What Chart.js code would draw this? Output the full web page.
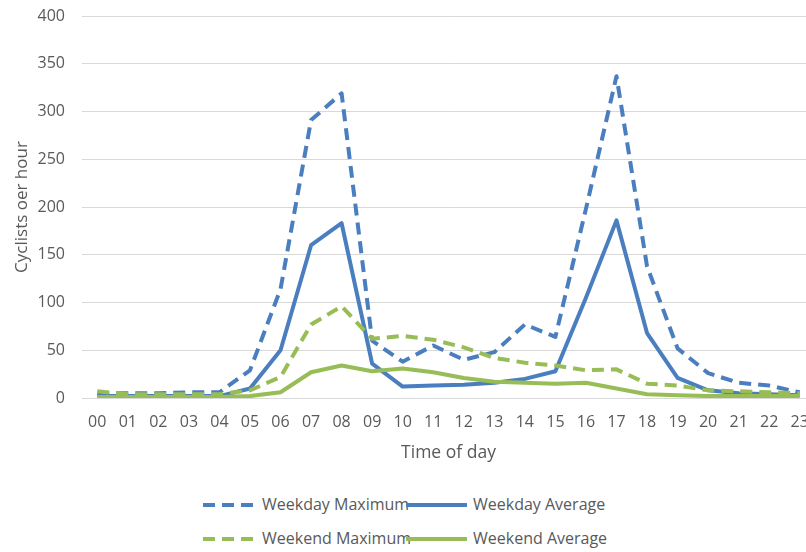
<!DOCTYPE html>
<html>
<head>
<meta charset="utf-8">
<script src="https://cdn.jsdelivr.net/npm/chart.js@4/dist/chart.umd.min.js"></script>
<style>
  html, body { margin: 0; padding: 0; background: #fff; overflow: hidden; width: 806px; height: 552px; }
  #wrap { position: absolute; left: 0; top: 0; width: 816px; height: 470px; }
  .lg { position: absolute; font-family: "Open Sans", sans-serif; font-size: 16px; color: #595959; white-space: nowrap; line-height: 20px; }
  .lg svg { position: absolute; }
</style>
</head>
<body>
<div id="wrap"><canvas id="c" width="816" height="470"></canvas></div>
<div id="legend"></div>
<script>
// Hourly cyclist counts
const hours = ["00","01","02","03","04","05","06","07","08","09","10","11","12","13","14","15","16","17","18","19","20","21","22","23"];
const weekdayMaximum = [5, 5, 5, 6, 6, 29, 114, 291, 319, 60, 38, 55, 40, 48, 77, 64, 198, 337, 138, 52, 26, 16, 13, 6];
const weekdayAverage = [2, 2, 2, 2, 2, 10, 50, 160, 183, 36, 12, 13, 14, 16, 20, 28, 105, 186, 68, 21, 8, 5, 4, 3];
const weekendMaximum = [7, 4, 4, 4, 4, 8, 22, 77, 96, 62, 65, 61, 53, 42, 37, 34, 29, 30, 15, 13, 8, 7, 6, 5];
const weekendAverage = [1, 1, 1, 1, 1, 2, 6, 27, 34, 28, 31, 27, 21, 17, 16, 15, 16, 10, 4, 3, 2, 2, 2, 2];
const yTicks = [0, 50, 100, 150, 200, 250, 300, 350, 400];

const BLUE = "#4a7ebf";
const GREEN = "#98bd57";
const TEXT = "#595959";
const FONT = "'Open Sans', sans-serif";

const series = [
  { label: "Weekday Maximum", data: weekdayMaximum, color: BLUE, dashed: true, order: 4 },
  { label: "Weekday Average", data: weekdayAverage, color: BLUE, dashed: false, order: 3 },
  { label: "Weekend Maximum", data: weekendMaximum, color: GREEN, dashed: true, order: 2 },
  { label: "Weekend Average", data: weekendAverage, color: GREEN, dashed: false, order: 1 }
];

new Chart(document.getElementById("c"), {
  type: "line",
  data: {
    labels: hours,
    datasets: series.map(s => ({
      label: s.label,
      data: s.data,
      borderColor: s.color,
      backgroundColor: s.color,
      borderWidth: 4,
      borderDash: s.dashed ? [12, 7] : [],
      borderJoinStyle: "round",
      pointRadius: 0,
      tension: 0,
      order: s.order
    }))
  },
  options: {
    responsive: false,
    animation: false,
    layout: { padding: { top: 16, right: 1, left: 0, bottom: 0 } },
    plugins: { legend: { display: false }, tooltip: { enabled: false } },
    scales: {
      x: {
        offset: true,
        grid: { display: false, drawTicks: false },
        border: { display: false },
        ticks: { color: TEXT, font: { family: FONT, size: 16 }, padding: 15, maxRotation: 0, autoSkip: false },
        title: { display: true, text: "Time of day", color: TEXT, font: { family: FONT, size: 17.5 }, padding: { top: 0, bottom: 6 } },
        afterFit: s => { s.height = 72; s.paddingLeft = 0; s.paddingRight = 0; }
      },
      y: {
        min: 0,
        max: 400,
        afterBuildTicks: s => { s.ticks = yTicks.map(v => ({ value: v })); },
        grid: { color: "#d9d9d9", lineWidth: 1, drawTicks: false },
        border: { display: false },
        ticks: { color: TEXT, font: { family: FONT, size: 16 }, padding: 17 },
        title: { display: true, text: "Cyclists oer hour", color: TEXT, font: { family: FONT, size: 17 }, padding: { top: 12, bottom: 0 } },
        afterFit: s => { s.width = 82; s.paddingTop = 0; s.paddingBottom = 0; }
      }
    }
  }
});

// Legend below the plot, two rows
const legendItems = [
  { s: series[0], sx: 203, tx: 262, y: 505 },
  { s: series[1], sx: 406, tx: 473, y: 505 },
  { s: series[2], sx: 203, tx: 262, y: 539 },
  { s: series[3], sx: 406, tx: 473, y: 539 }
];
const legend = document.getElementById("legend");
legendItems.forEach(it => {
  const w = it.s.dashed ? 50 : 61;
  const svg = document.createElementNS("http://www.w3.org/2000/svg", "svg");
  svg.setAttribute("width", w);
  svg.setAttribute("height", 6);
  svg.style.position = "absolute";
  svg.style.left = it.sx + "px";
  svg.style.top = (it.y - 3) + "px";
  const ln = document.createElementNS("http://www.w3.org/2000/svg", "line");
  ln.setAttribute("x1", 0); ln.setAttribute("y1", 3);
  ln.setAttribute("x2", w); ln.setAttribute("y2", 3);
  ln.setAttribute("stroke", it.s.color);
  ln.setAttribute("stroke-width", 4);
  if (it.s.dashed) ln.setAttribute("stroke-dasharray", "12 7");
  svg.appendChild(ln);
  legend.appendChild(svg);
  const t = document.createElement("div");
  t.className = "lg";
  t.style.left = it.tx + "px";
  t.style.top = (it.y - 11) + "px";
  t.textContent = it.s.label;
  legend.appendChild(t);
});
</script>
</body>
</html>
